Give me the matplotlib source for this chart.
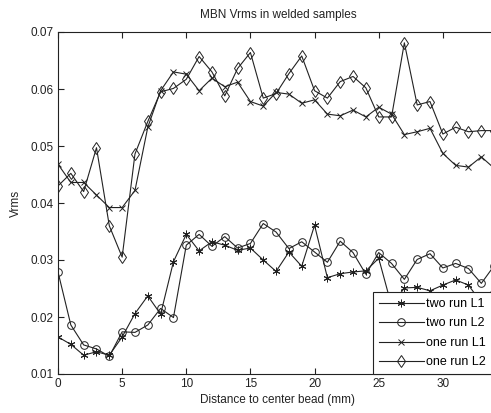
import matplotlib
matplotlib.use("Agg")
import matplotlib.pyplot as plt
from matplotlib.ticker import FormatStrFormatter

plt.rcParams['font.family'] = ['Liberation Sans', 'DejaVu Sans']

distance = list(range(35))

two_run_L1 = [0.0165, 0.0152, 0.0133, 0.0139, 0.0133, 0.0165, 0.0206, 0.0237, 0.0205, 0.0297,
              0.0345, 0.0316, 0.0332, 0.0326, 0.0317, 0.0321, 0.0300, 0.0280, 0.0314, 0.0289,
              0.0361, 0.0269, 0.0276, 0.0279, 0.0281, 0.0303, 0.0220, 0.0251, 0.0252, 0.0246,
              0.0256, 0.0265, 0.0256, 0.0225, 0.0250]
two_run_L2 = [0.0279, 0.0186, 0.0151, 0.0144, 0.0131, 0.0174, 0.0173, 0.0186, 0.0215, 0.0199,
              0.0326, 0.0345, 0.0324, 0.0341, 0.0321, 0.0329, 0.0364, 0.0349, 0.0320, 0.0332,
              0.0314, 0.0296, 0.0333, 0.0313, 0.0275, 0.0313, 0.0294, 0.0266, 0.0301, 0.0311,
              0.0286, 0.0294, 0.0285, 0.0259, 0.0290]
one_run_L1 = [0.0468, 0.0436, 0.0436, 0.0414, 0.0392, 0.0392, 0.0422, 0.0533, 0.0597, 0.0630,
              0.0626, 0.0597, 0.0619, 0.0604, 0.0612, 0.0578, 0.0570, 0.0594, 0.0591, 0.0575,
              0.0581, 0.0556, 0.0553, 0.0563, 0.0551, 0.0568, 0.0556, 0.0520, 0.0525, 0.0531,
              0.0487, 0.0466, 0.0463, 0.0481, 0.0461]
one_run_L2 = [0.0430, 0.0452, 0.0420, 0.0497, 0.0360, 0.0305, 0.0486, 0.0543, 0.0595, 0.0601,
              0.0617, 0.0657, 0.0630, 0.0588, 0.0636, 0.0664, 0.0584, 0.0592, 0.0627, 0.0658,
              0.0597, 0.0584, 0.0613, 0.0622, 0.0602, 0.0551, 0.0551, 0.0681, 0.0572, 0.0578,
              0.0521, 0.0533, 0.0525, 0.0527, 0.0527]

series = [
    (two_run_L1, (6, 2, 0), 'two run L1', 5.5),
    (two_run_L2, 'o', 'two run L2', 5.5),
    (one_run_L1, 'x', 'one run L1', 3.8),
    (one_run_L2, 'd', 'one run L2', 6),
]

W, H = 491, 413
fig = plt.figure(figsize=(W / 100, H / 100), dpi=100)
ax = fig.add_axes([58 / W, 1 - 374 / H, (498 - 58) / W, (374 - 32) / H])

for vals, mk, lab, ms in series:
    ax.plot(distance, vals, color='#222222', lw=0.8, marker=mk, markersize=ms,
            markerfacecolor='none', markeredgecolor='#222222', markeredgewidth=0.7,
            label=lab, clip_on=True)

ax.set_xlim(0, 34.3)
ax.set_ylim(0.01, 0.07)
ax.set_xticks([0, 5, 10, 15, 20, 25, 30])
ax.set_yticks([0.01, 0.02, 0.03, 0.04, 0.05, 0.06, 0.07])
ax.yaxis.set_major_formatter(FormatStrFormatter('%.2f'))
ax.tick_params(direction='in', length=4, width=0.8, top=True, right=True,
               labelsize=8.5, colors='#222222', pad=3)
for s in ax.spines.values():
    s.set_linewidth(0.8)
    s.set_color('#222222')

ax.set_title('MBN Vrms in welded samples', fontsize=8.5, color='#222222', pad=10)
ax.set_xlabel('Distance to center bead (mm)', fontsize=8.5, color='#222222', labelpad=3)
ax.set_ylabel('Vrms', fontsize=8.5, color='#222222', labelpad=6)

leg = ax.legend(loc='lower left', bbox_to_anchor=(373 / W, 1 - 374 / H, 135 / W, 0),
                bbox_transform=fig.transFigure, mode='expand', fontsize=9, frameon=True,
                fancybox=False, borderpad=0.45, handlelength=3.6, handletextpad=0.2,
                labelspacing=0.6, borderaxespad=0)
leg.get_frame().set_edgecolor('#222222')
leg.get_frame().set_linewidth(0.8)
leg.get_frame().set_alpha(1)

fig.savefig('out.png', dpi=100)
